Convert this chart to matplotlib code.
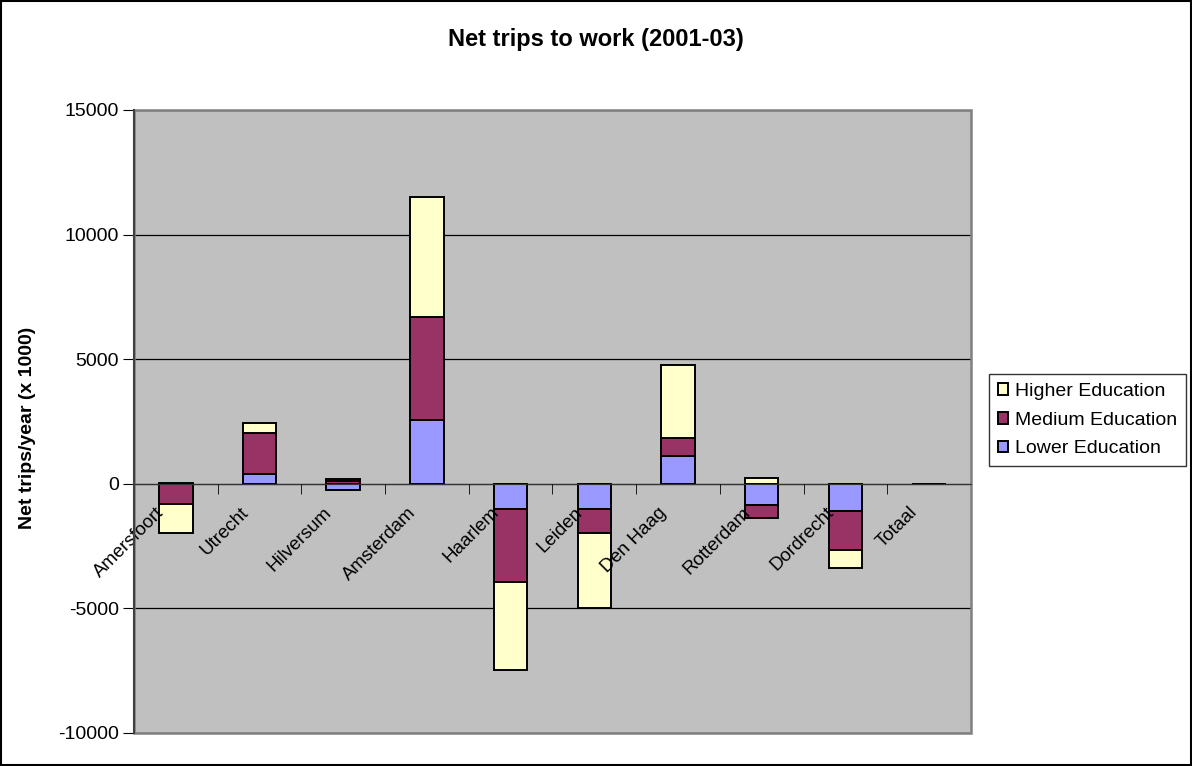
import numpy as np
import matplotlib.pyplot as plt
import matplotlib.transforms as mtransforms
from matplotlib.patches import Rectangle

# Net trips per city, by education level (x 1000 trips/year)
cities = ['Amersfoort', 'Utrecht', 'Hilversum', 'Amsterdam', 'Haarlem',
          'Leiden', 'Den Haag', 'Rotterdam', 'Dordrecht', 'Totaal']
lower = [50, 380, -265, 2550, -1000, -1000, 1100, -870, -1110, 0]
medium = [-810, 1650, 120, 4150, -2960, -990, 740, -490, -1550, 0]
higher = [-1180, 390, 80, 4790, -3500, -2980, 2910, 250, -730, 0]

series = [('Lower Education', lower, '#9999FF'),
          ('Medium Education', medium, '#993366'),
          ('Higher Education', higher, '#FFFFCC')]

plt.rcParams['font.family'] = ['Liberation Sans', 'DejaVu Sans']
plt.rcParams['axes.unicode_minus'] = False

fig = plt.figure(figsize=(11.92, 7.66), dpi=100)
ax = fig.add_axes([0.1124, 0.0431, 0.7022, 0.8133])
ax.set_facecolor('#C0C0C0')
ax.set_axisbelow(True)

x = np.arange(len(cities))
pos_base = np.zeros(len(cities))
neg_base = np.zeros(len(cities))
handles = []
for name, vals, col in series:
    v = np.array(vals, dtype=float)
    bottom = np.where(v >= 0, pos_base, neg_base)
    b = ax.bar(x, v, width=0.4, bottom=bottom, color=col, edgecolor='black',
               linewidth=1.4, label=name, zorder=2)
    handles.append(b)
    pos_base = pos_base + np.where(v >= 0, v, 0)
    neg_base = neg_base + np.where(v < 0, v, 0)

ax.set_xlim(-0.5, len(cities) - 0.5)
ax.set_ylim(-10000, 15000)
ax.set_yticks(np.arange(-10000, 15001, 5000))
ax.yaxis.grid(True, color='black', linewidth=0.9)
ax.tick_params(axis='y', direction='out', length=8, labelsize=14, pad=3)

# category axis sits on zero, labels rotated like the spreadsheet
ax.spines['bottom'].set_position(('data', 0))
ax.spines['bottom'].set_color('#333333')
ax.spines['bottom'].set_zorder(4)
for s in ['top', 'right']:
    ax.spines[s].set_visible(False)
ax.spines['left'].set_color('#404040')
ax.spines['left'].set_linewidth(1.5)
ax.spines['left'].set_zorder(5)
ax.add_patch(Rectangle((0, 0), 1, 1, transform=ax.transAxes, fill=False,
                       edgecolor='#808080', linewidth=1.8, zorder=3, clip_on=False))

ax.set_xticks(x)
ax.set_xticklabels(cities, rotation=45, ha='right', va='top',
                   rotation_mode='anchor', fontsize=13.5)
ax.tick_params(axis='x', which='major', length=0, pad=0)
ax.set_xticks(np.arange(0.5, len(cities) - 1, 1), minor=True)
ax.tick_params(axis='x', which='minor', direction='out', length=7)
ax.xaxis.set_zorder(4)
shift = mtransforms.ScaledTranslation(-0.20, -0.20, fig.dpi_scale_trans)
for lab in ax.get_xticklabels():
    lab.set_transform(lab.get_transform() + shift)

ax.set_ylabel('Net trips/year (x 1000)', fontsize=14, fontweight='bold')
ax.yaxis.set_label_coords(-0.117, 0.49)
fig.text(0.5, 0.949, 'Net trips to work (2001-03)', fontsize=17, fontweight='bold',
         ha='center', va='center')

leg = ax.legend(handles[::-1], [h.get_label() for h in handles[::-1]],
                loc='center left', bbox_to_anchor=(1.0215, 0.502), fontsize=14,
                frameon=True, fancybox=False, edgecolor='black',
                handlelength=0.55, handleheight=0.55, handletextpad=0.35,
                borderpad=0.45, labelspacing=0.6, borderaxespad=0)
leg.get_frame().set_linewidth(1.0)

# outer chart border
fig.patches.append(Rectangle((0.001, 0.001), 0.998, 0.998, transform=fig.transFigure,
                             fill=False, edgecolor='black', linewidth=1.5))

fig.savefig('out.png', dpi=100)
